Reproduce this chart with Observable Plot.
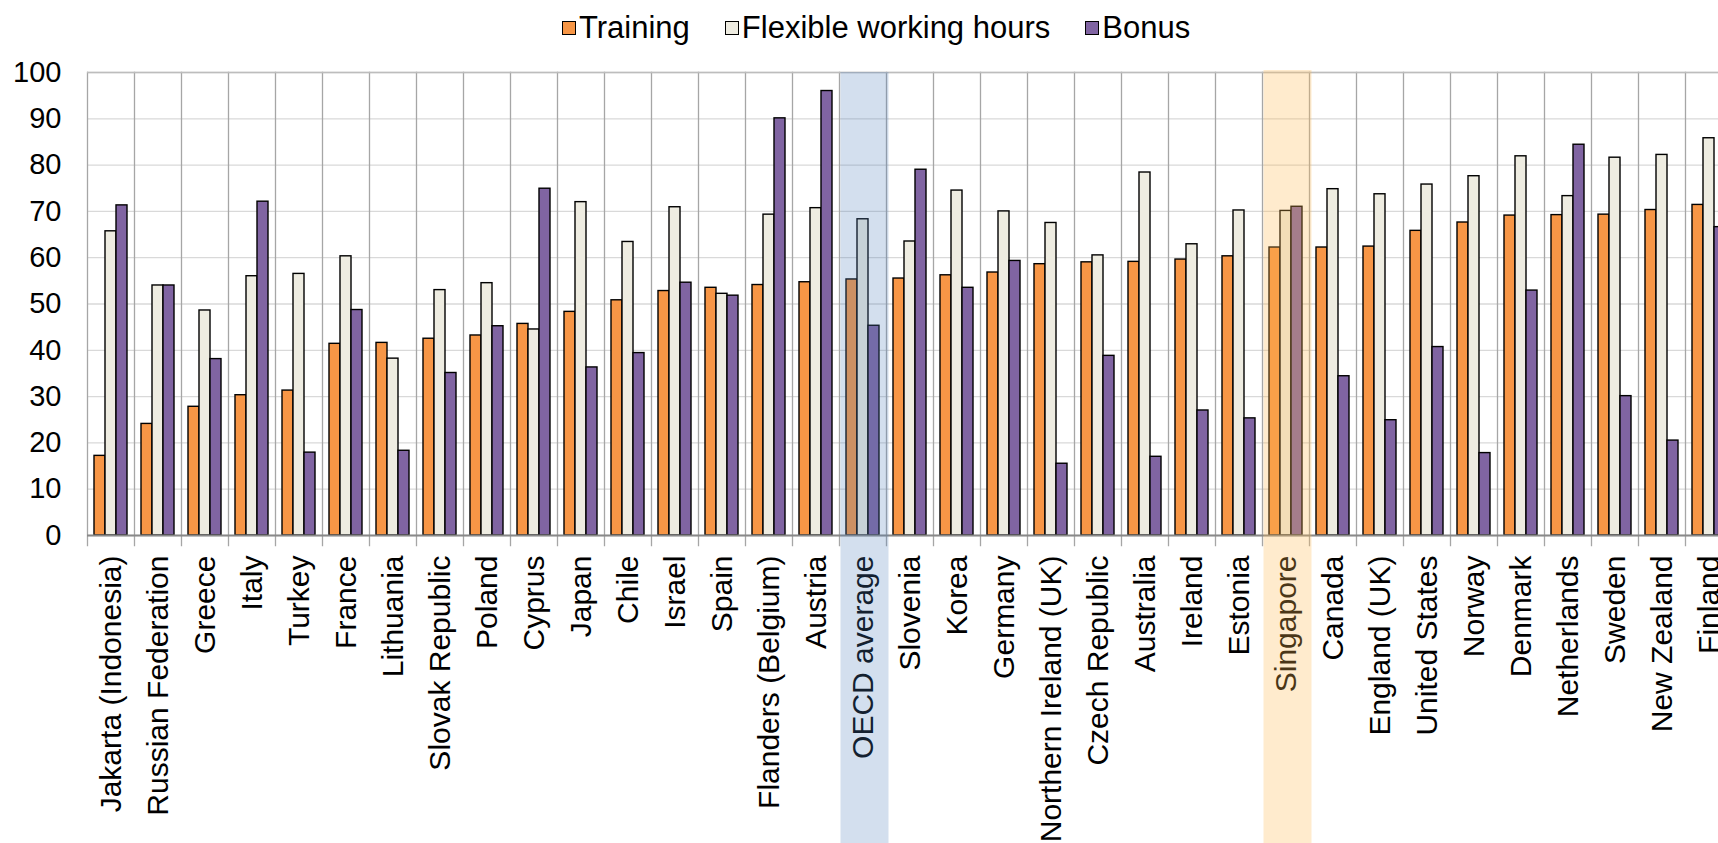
<!DOCTYPE html>
<html><head><meta charset="utf-8">
<script src="https://cdn.jsdelivr.net/npm/d3@7"></script>
<script src="https://cdn.jsdelivr.net/npm/@observablehq/plot@0.6"></script>
<style>
html,body{margin:0;padding:0;overflow:hidden;background:#fff;width:1718px;height:843px}
body{font-family:"Liberation Sans",Arial,sans-serif;position:relative}
#legend{position:absolute;left:562px;top:8px;height:40px;display:flex;align-items:center;font-size:31px;color:#000;white-space:nowrap}
.item{display:flex;align-items:center;margin-right:35px}
.sw{width:12px;height:12px;border:1.4px solid #000;margin-right:3px;box-sizing:content-box}
#chart{position:absolute;left:0;top:50px;width:1740px}
#chart svg{max-width:none !important}
</style></head><body>
<div id="legend"></div><div id="chart"></div>
<script>
const categories = ["Jakarta (Indonesia)","Russian Federation","Greece","Italy","Turkey","France","Lithuania","Slovak Republic","Poland","Cyprus","Japan","Chile","Israel","Spain","Flanders (Belgium)","Austria","OECD average","Slovenia","Korea","Germany","Northern Ireland (UK)","Czech Republic","Australia","Ireland","Estonia","Singapore","Canada","England (UK)","United States","Norway","Denmark","Netherlands","Sweden","New Zealand","Finland"];
const training = [17.2,24.1,27.8,30.3,31.3,41.4,41.6,42.5,43.2,45.7,48.3,50.8,52.8,53.5,54.1,54.7,55.3,55.5,56.2,56.8,58.6,59.0,59.1,59.6,60.3,62.2,62.2,62.4,65.8,67.6,69.1,69.2,69.3,70.3,71.4];
const flexible = [65.7,54.0,48.6,56.0,56.5,60.3,38.2,53.0,54.5,44.5,72.0,63.4,70.9,52.2,69.3,70.7,68.3,63.5,74.5,70.0,67.5,60.5,78.4,62.9,70.2,70.1,74.8,73.7,75.8,77.6,81.9,73.3,81.6,82.2,85.8];
const bonus = [71.3,54.0,38.1,72.1,17.9,48.7,18.3,35.1,45.2,74.9,36.3,39.4,54.6,51.8,90.1,96.0,45.3,79.0,53.5,59.3,15.5,38.8,17.0,27.0,25.3,71.0,34.4,24.9,40.7,17.8,52.9,84.4,30.1,20.5,66.6];
const seriesNames = ["Training","Flexible working hours","Bonus"];
const seriesColors = ["#F79646","#EEECE1","#8064A2"];
const yTicks = [0,10,20,30,40,50,60,70,80,90,100];
const highlightCategories = ["OECD average","Singapore"];
const highlightColors = ["#4F81BD","rgb(255,186,83)"];
const highlightOpacity = [0.25,0.29];

const seriesValues = [training, flexible, bonus];
const rows = categories.flatMap((c,i) => seriesNames.map((s,j) => ({category:c, series:s, value:seriesValues[j][i]})));

// legend
const lg = document.getElementById("legend");
seriesNames.forEach((s,j) => {
  const it = document.createElement("div"); it.className = "item";
  const sw = document.createElement("div"); sw.className = "sw"; sw.style.background = seriesColors[j];
  const tx = document.createElement("span"); tx.textContent = s;
  it.appendChild(sw); it.appendChild(tx); lg.appendChild(it);
});

const bandMarks = highlightCategories.map((c,k) => Plot.barY([{category:c}], {
  fx:"category", y1:100, y2:-75, fill:highlightColors[k], fillOpacity:highlightOpacity[k],
  insetLeft:1.5, insetRight:-2.5, insetTop: k === 1 ? -2 : 0
}));

const plot = Plot.plot({
  width: 1732, height: 800,
  marginLeft: 87, marginRight: 0, marginTop: 22, marginBottom: 305,
  style: {fontFamily:"Liberation Sans, Arial, sans-serif", fontSize:"29px", color:"#000", background:"transparent", overflow:"visible"},
  fx: {domain: categories, padding: 0, label: null},
  x: {domain: seriesNames, paddingInner: 0, paddingOuter: 0.5, axis: null},
  y: {domain: [-2.16, 100], label: null},
  marks: [
    Plot.gridY(yTicks, {stroke:"#d9d9d9", strokeOpacity:1, strokeWidth:1.3}),
    Plot.frame({anchor:"left", stroke:"#a6a6a6", strokeWidth:1.3}),
    Plot.ruleY([100], {stroke:"#bdbdbd", strokeWidth:1.5}),
    Plot.barY(rows, {fx:"category", x:"series", y:"value", fill:"series", stroke:"#000", strokeWidth:1.4}),
    Plot.ruleY([0], {stroke:"#888", strokeWidth:2}),
    Plot.axisY(yTicks, {tickSize:0, tickPadding:26, fontSize:29, label:null}),
    Plot.axisFx({anchor:"bottom", tickRotate:-90, tickSize:0, tickPadding:10, fontSize:30, label:null}),
    ...bandMarks
  ],
  color: {domain: seriesNames, range: seriesColors}
});
document.getElementById("chart").appendChild(plot);
</script></body></html>
